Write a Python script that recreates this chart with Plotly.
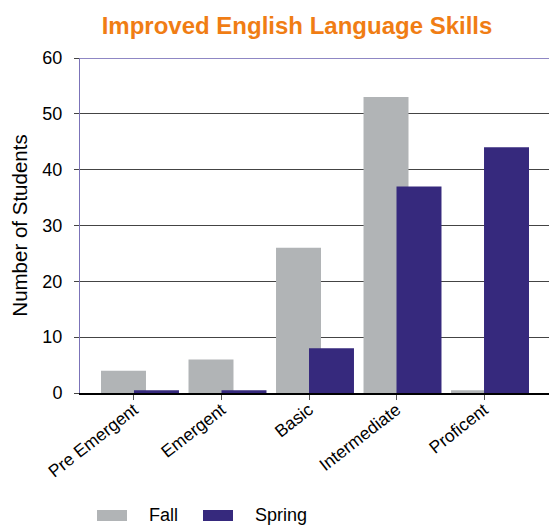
import plotly.graph_objects as go

categories = ["Pre Emergent", "Emergent", "Basic", "Intermediate", "Proficent"]
fall = [4, 6, 26, 53, 0.5]
spring = [0.5, 0.5, 8, 37, 44]
y_ticks = [0, 10, 20, 30, 40, 50, 60]

FALL_C = "#B1B4B6"
SPRING_C = "#36297D"
x_idx = list(range(len(categories)))

# page body has an 8px margin; the figure is sized/offset to compensate
OFF = 8
W, H = 557 - OFF, 525 - OFF
L, T, B = 80 - OFF, 58 - OFF, 132
PH = H - T - B
PW = W - L

fig = go.Figure()
fig.add_trace(go.Bar(x=x_idx, y=fall, name="Fall", marker_color=FALL_C,
                     marker_line_width=0, width=0.514, offset=-0.377))
fig.add_trace(go.Bar(x=x_idx, y=spring, name="Spring", marker_color=SPRING_C,
                     marker_line_width=0, width=0.514, offset=0.0))

fig.update_layout(
    width=W, height=H,
    margin=dict(l=L, r=0, t=T, b=B, autoexpand=False),
    barmode="overlay",
    plot_bgcolor="white", paper_bgcolor="white",
    showlegend=False,
    font=dict(family="Liberation Sans, Arial, sans-serif", color="black"),
    title=dict(text="Improved English Language Skills", x=(297 - OFF) / W, xanchor="center",
               y=1 - (26 - OFF) / H, yanchor="middle",
               font=dict(family="Liberation Sans, Arial, sans-serif",
                         size=24, color="#F07D14", weight="bold")),
)
fig.update_xaxes(
    tickmode="array", tickvals=x_idx, ticktext=categories,
    range=[-0.617, 4.834], tickangle=-38, automargin=False,
    ticks="outside", ticklen=5, tickcolor="#555555", ticklabelstandoff=-7,
    showline=True, linecolor="black", linewidth=1.5,
    showgrid=False, tickfont=dict(size=17.5),
)
fig.update_yaxes(
    range=[0, 60], tickmode="array", tickvals=y_ticks, automargin=False,
    ticks="outside", ticklen=5, tickcolor="#444444", ticklabelstandoff=8,
    showgrid=True, gridcolor="#444444", gridwidth=1,
    showline=True, linecolor="#7B73B8", linewidth=1,
    zeroline=False, tickfont=dict(size=18),
    title=dict(text="Number of Students", font=dict(size=20.5), standoff=12),
)
fig.add_shape(type="line", xref="paper", yref="y", x0=0, x1=1, y0=60, y1=60,
              line=dict(color="#6A5FB0", width=1.5))

# legend drawn manually (positions given in viewport pixels)
def py(pix):
    return (H - B - (pix - OFF)) / PH

def px(pix):
    return (pix - OFF - L) / PW

fig.add_shape(type="rect", xref="paper", yref="paper",
              x0=px(97), x1=px(127), y0=py(521), y1=py(510),
              fillcolor=FALL_C, line_width=0)
fig.add_shape(type="rect", xref="paper", yref="paper",
              x0=px(203), x1=px(233), y0=py(521), y1=py(510),
              fillcolor=SPRING_C, line_width=0)
fig.add_annotation(text="Fall", xref="paper", yref="paper", x=px(147),
                   y=py(515), xanchor="left", yanchor="middle", showarrow=False,
                   font=dict(size=18))
fig.add_annotation(text="Spring", xref="paper", yref="paper", x=px(253),
                   y=py(515), xanchor="left", yanchor="middle", showarrow=False,
                   font=dict(size=18))

fig.write_html("out.html")
